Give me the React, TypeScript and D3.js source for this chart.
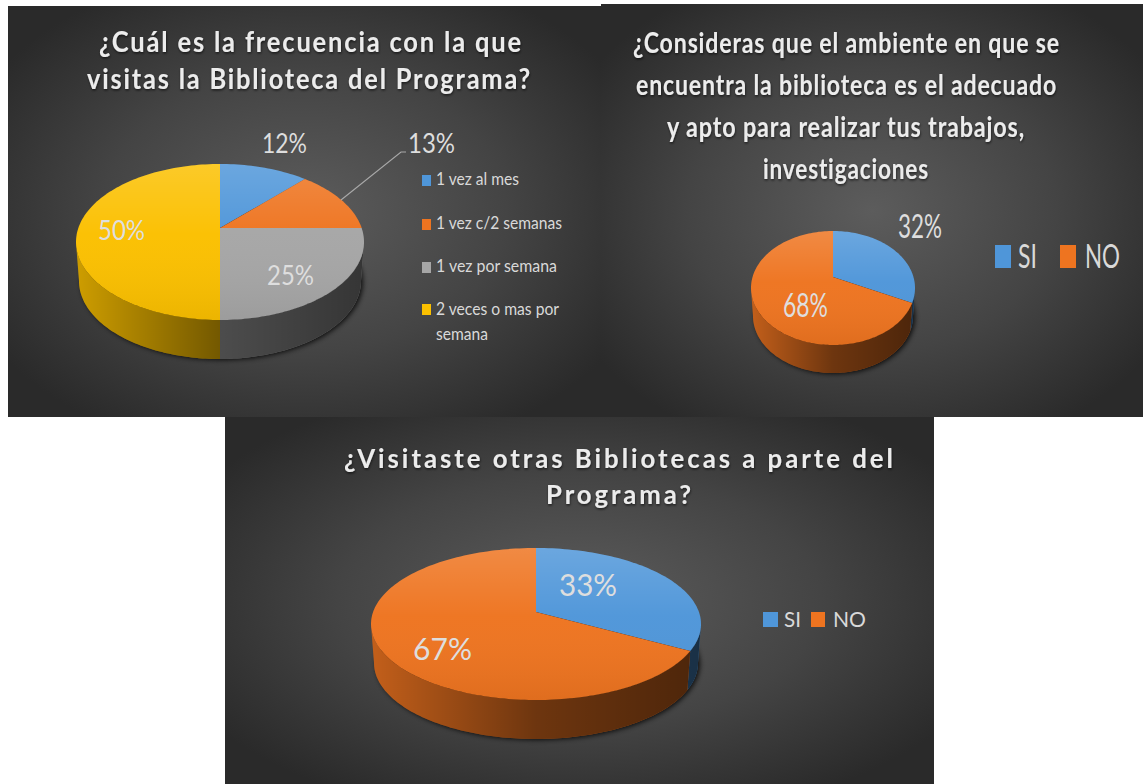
import React from "react";
import * as d3 from "d3";

// ---- data ----
const freqCategories = ["1 vez al mes", "1 vez c/2 semanas", "1 vez por semana", "2 veces o mas por semana"];
const freqValues = [12, 13, 25, 50];
const ambienteCategories = ["SI", "NO"];
const ambienteValues = [32, 68];
const otrasCategories = ["SI", "NO"];
const otrasValues = [33, 67];

const BLUE = "#4f96d9";
const ORANGE = "#ee7420";
const GRAY = "#a6a6a6";
const YELLOW = "#fbc000";
const freqColors = [BLUE, ORANGE, GRAY, YELLOW];
const yesNoColors = [BLUE, ORANGE];

type TextBox = { text: string; x0: number; x1: number; y: number };

const title1: TextBox[] = [
  { text: "¿Cuál es la frecuencia con la que", x0: 99, x1: 523, y: 52 },
  { text: "visitas la Biblioteca del Programa?", x0: 87, x1: 532, y: 89 },
];
const title2: TextBox[] = [
  { text: "¿Consideras que el ambiente en que se", x0: 633, x1: 1060, y: 53 },
  { text: "encuentra la biblioteca es el adecuado", x0: 636, x1: 1057, y: 95 },
  { text: "y apto para realizar tus trabajos,", x0: 667, x1: 1025, y: 137 },
  { text: "investigaciones", x0: 763, x1: 929, y: 179 },
];
const title3: TextBox[] = [
  { text: "¿Visitaste otras Bibliotecas a parte del", x0: 344, x1: 896, y: 468 },
  { text: "Programa?", x0: 546, x1: 694, y: 504 },
];

const PANELS = [
  {
    id: "p1", rect: [8, 6, 593, 411], values: freqValues, colors: freqColors,
    geo: { ax: 220, ay: 228, cx: 220, cy: 242, rx: 144, ry: 78, rx2: 141, depth: 39 },
    title: title1, titleSize: 28, titleSpacing: 2, titleScale: 0.92,
    labelSize: 27,
    labels: [[262, 307, 153], [408, 455, 153], [267, 314, 285], [98, 145, 240]],
    legendSize: 17,
    legend: [
      { sw: [422, 175, 9, 11], lines: [{ text: freqCategories[0], x0: 436, x1: 519, y: 185 }] },
      { sw: [422, 219, 9, 11], lines: [{ text: freqCategories[1], x0: 436, x1: 562, y: 229 }] },
      { sw: [422, 262, 9, 11], lines: [{ text: freqCategories[2], x0: 436, x1: 557, y: 272 }] },
      { sw: [422, 304, 9, 11], lines: [
        { text: "2 veces o mas por", x0: 436, x1: 559, y: 315 },
        { text: "semana", x0: 436, x1: 488, y: 340 },
      ] },
    ],
    leader: [[341, 200], [401, 152], [406, 152]] as [number, number][],
  },
  {
    id: "p2", rect: [601, 4, 542, 413], values: ambienteValues, colors: yesNoColors,
    geo: { ax: 833, ay: 277, cx: 833, cy: 288, rx: 82, ry: 57, rx2: 80, depth: 28 },
    title: title2, titleSize: 28, titleSpacing: 1, titleScale: 0.78,
    labelSize: 32,
    labels: [[898, 942, 238], [783, 828, 317]],
    legendSize: 33,
    legend: [
      { sw: [995, 245, 16, 23], lines: [{ text: ambienteCategories[0], x0: 1018, x1: 1037, y: 268 }] },
      { sw: [1060, 245, 16, 23], lines: [{ text: ambienteCategories[1], x0: 1085, x1: 1120, y: 268 }] },
    ],
    leader: null,
  },
  {
    id: "p3", rect: [225, 417, 709, 367], values: otrasValues, colors: yesNoColors,
    geo: { ax: 536, ay: 612, cx: 536, cy: 624, rx: 165, ry: 76, rx2: 162, depth: 39 },
    title: title3, titleSize: 26, titleSpacing: 3, titleScale: 0.9,
    labelSize: 30,
    labels: [[559, 617, 596], [413, 472, 660]],
    legendSize: 22,
    legend: [
      { sw: [763, 612, 15, 15], lines: [{ text: otrasCategories[0], x0: 784, x1: 801, y: 627 }] },
      { sw: [811, 612, 14, 15], lines: [{ text: otrasCategories[1], x0: 833, x1: 866, y: 627 }] },
    ],
    leader: null,
  },
];

type Geo = (typeof PANELS)[number]["geo"];

// Where the ray for pie angle theta meets the top ellipse, as a parameter phi on that ellipse.
function rayToPhi(theta: number, g: Geo) {
  if (theta <= 0) return 0;
  if (theta >= 2 * Math.PI - 1e-9) return 2 * Math.PI;
  const u = (g.ax - g.cx) / g.rx;
  const v = (g.ay - g.cy) / g.ry;
  const du = Math.sin(theta);
  const dv = -Math.cos(theta);
  const b = u * du + v * dv;
  const c = u * u + v * v - 1;
  const t = -b + Math.sqrt(b * b - c);
  let phi = Math.atan2(u + t * du, -(v + t * dv));
  if (phi < 0) phi += 2 * Math.PI;
  return phi;
}

const lineGen = d3.line<[number, number]>().x((d) => d[0]).y((d) => d[1]);

function arcPts(a: number, b: number, cx: number, cy: number, rx: number, ry: number) {
  const n = Math.max(2, Math.ceil(Math.abs(b - a) * 40));
  return d3.range(n + 1).map((i): [number, number] => {
    const p = a + ((b - a) * i) / n;
    return [cx + rx * Math.sin(p), cy - ry * Math.cos(p)];
  });
}

function FitText({ box, size, weight, fill, spacing, filter, scale }: any) {
  const sx = scale ?? 1;
  return (
    <g filter={filter}>
      <text
        transform={`translate(${box.x0},${box.y}) scale(${sx},1)`}
        textLength={(box.x1 - box.x0) / sx}
        lengthAdjust="spacingAndGlyphs"
        fill={fill}
        style={{ fontFamily: "Lato, 'Open Sans', sans-serif", fontSize: size, fontWeight: weight ?? 400, letterSpacing: spacing ?? 0 }}
      >
        {box.text}
      </text>
    </g>
  );
}

function Panel({ p }: { p: (typeof PANELS)[number] }) {
  const g = p.geo;
  const [rx0, ry0, rw, rh] = p.rect;
  const arcs = d3.pie<number>().sort(null)(p.values);
  const slices = arcs.map((a, i) => {
    const pa = rayToPhi(a.startAngle, g);
    const pb = rayToPhi(a.endAngle, g);
    const top = lineGen([[g.ax, g.ay], ...arcPts(pa, pb, g.cx, g.cy, g.rx, g.ry)]) + "Z";
    const wa = Math.max(pa, Math.PI / 2);
    const wb = Math.min(pb, (3 * Math.PI) / 2);
    const wall =
      wb > wa
        ? lineGen([
            ...arcPts(wa, wb, g.cx, g.cy, g.rx, g.ry),
            ...arcPts(wb, wa, g.cx, g.cy + g.depth, g.rx2, g.ry),
          ]) + "Z"
        : null;
    return { top, wall, color: p.colors[i], value: a.data };
  });
  const cy2 = g.cy + g.depth;
  return (
    <g>
      <defs>
        <radialGradient id={p.id + "-bg"} cx="50%" cy="50%" r="62%">
          <stop offset="0%" stopColor="#5c5c5c" />
          <stop offset="55%" stopColor="#444444" />
          <stop offset="100%" stopColor="#2a2a2a" />
        </radialGradient>
        <linearGradient id={p.id + "-shade"} gradientUnits="userSpaceOnUse" x1={g.cx - g.rx} x2={g.cx + g.rx} y1={0} y2={0}>
          <stop offset="0%" stopColor="#000" stopOpacity={0.18} />
          <stop offset="50%" stopColor="#000" stopOpacity={0.54} />
          <stop offset="100%" stopColor="#000" stopOpacity={0.68} />
        </linearGradient>
        <linearGradient id={p.id + "-sheen"} gradientUnits="userSpaceOnUse" x1={0} x2={0} y1={g.cy - g.ry} y2={g.cy + g.ry}>
          <stop offset="0%" stopColor="#fff" stopOpacity={0.16} />
          <stop offset="45%" stopColor="#fff" stopOpacity={0.02} />
          <stop offset="100%" stopColor="#000" stopOpacity={0.06} />
        </linearGradient>
      </defs>
      <rect x={rx0} y={ry0} width={rw} height={rh} fill={`url(#${p.id}-bg)`} />
      <ellipse cx={g.cx + 2} cy={cy2 + 1} rx={g.rx2} ry={g.ry} fill="#000" opacity={0.8} filter="url(#soft)" />
      {slices.map((s, i) =>
        s.wall ? (
          <g key={"w" + i}>
            <path d={s.wall} fill={s.color} />
            <path d={s.wall} fill={`url(#${p.id}-shade)`} />
          </g>
        ) : null
      )}
      {slices.map((s, i) => (
        <g key={"t" + i}>
          <path d={s.top} fill={s.color} />
          <path d={s.top} fill={`url(#${p.id}-sheen)`} />
        </g>
      ))}
      {p.leader ? <path d={lineGen(p.leader) as string} fill="none" stroke="#a8a8a8" strokeWidth={1.2} /> : null}
      {p.title.map((t) => (
        <FitText key={t.text} box={t} size={p.titleSize} weight={700} fill="#ececec" spacing={p.titleSpacing} scale={p.titleScale} filter="url(#titleShadow)" />
      ))}
      {slices.map((s, i) => (
        <FitText
          key={"l" + i}
          box={{ text: `${s.value}%`, x0: p.labels[i][0], x1: p.labels[i][1], y: p.labels[i][2] }}
          size={p.labelSize}
          fill="#dedede"
        />
      ))}
      {p.legend.map((l, i) => (
        <g key={"lg" + i}>
          <rect x={l.sw[0]} y={l.sw[1]} width={l.sw[2]} height={l.sw[3]} fill={p.colors[i]} />
          {l.lines.map((t) => (
            <FitText key={t.text} box={t} size={p.legendSize} fill="#d9d9d9" />
          ))}
        </g>
      ))}
    </g>
  );
}

export default function App() {
  return (
    <svg
      width={1143}
      height={784}
      viewBox="0 0 1143 784"
      style={{ position: "absolute", left: 0, top: 0, display: "block", background: "#fff" }}
    >
      <defs>
        <filter id="soft" x="-10%" y="-10%" width="120%" height="120%">
          <feGaussianBlur stdDeviation={2.5} />
        </filter>
        <filter id="titleShadow" x="-5%" y="-20%" width="110%" height="150%">
          <feDropShadow dx={0.5} dy={1.5} stdDeviation={1} floodColor="#000" floodOpacity={0.6} />
        </filter>
      </defs>
      {PANELS.map((p) => (
        <Panel key={p.id} p={p} />
      ))}
    </svg>
  );
}
